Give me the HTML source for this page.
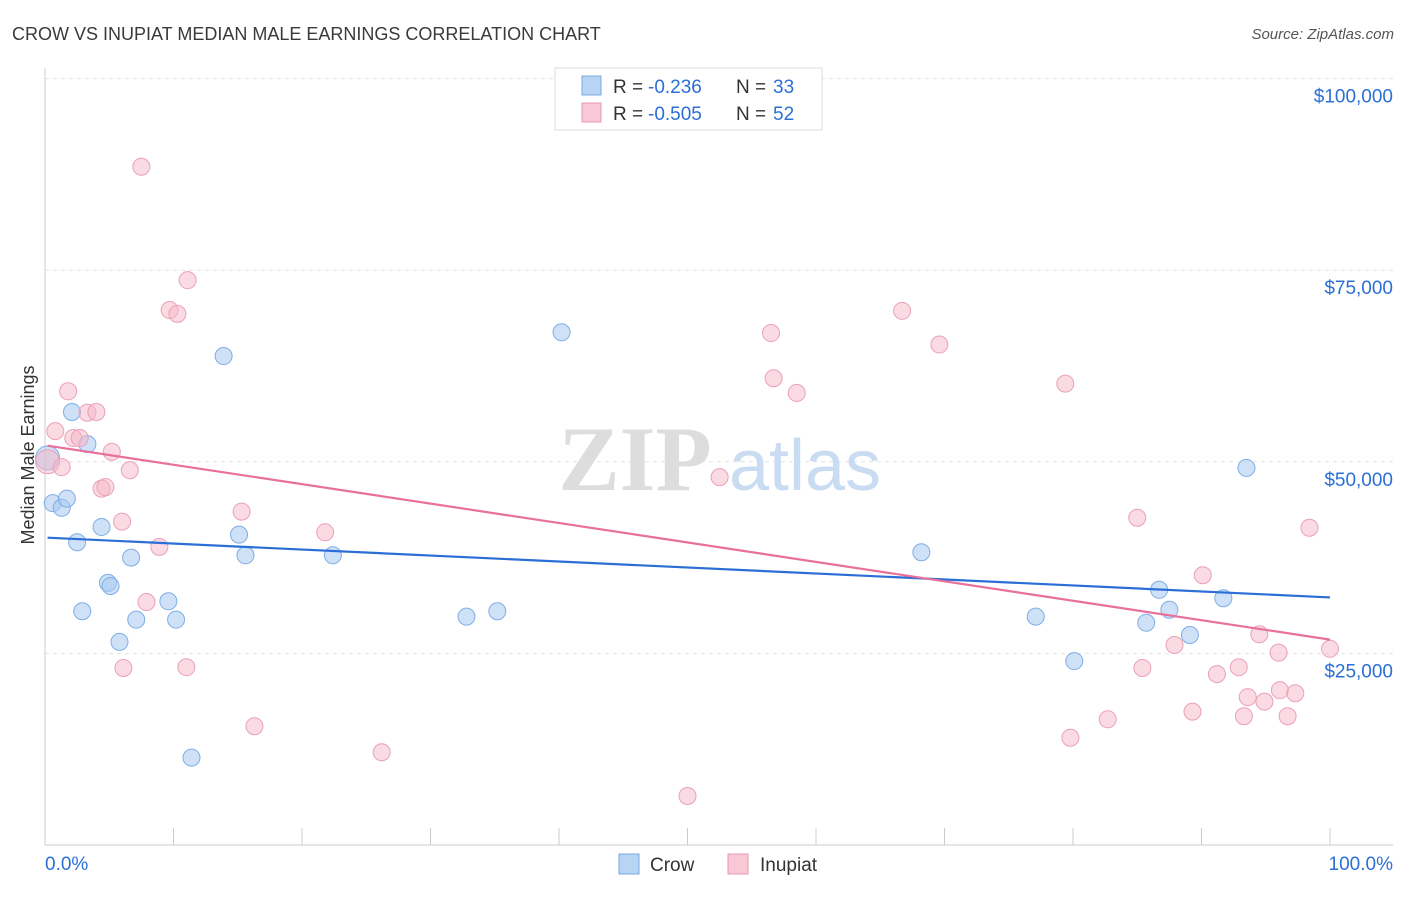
<!DOCTYPE html>
<html><head><meta charset="utf-8"><style>
body{margin:0;background:#fff;font-family:"Liberation Sans",sans-serif;}
svg text{font-family:"Liberation Sans",sans-serif;}
</style></head><body>
<svg id="chart" width="1406" height="892">
<text x="12" y="40" font-size="18" fill="#3a3a3a">CROW VS INUPIAT MEDIAN MALE EARNINGS CORRELATION CHART</text>
<text x="1394" y="39" font-size="15" fill="#555" font-style="italic" text-anchor="end">Source: ZipAtlas.com</text>
<g id="grid"></g>
<g>
<text x="635" y="490" font-size="92" fill="#ddd" text-anchor="middle" font-weight="bold" style="font-family:'Liberation Serif',serif">ZIP</text>
<text x="805" y="490" font-size="72" fill="#c9dcf2" text-anchor="middle">atlas</text>
</g>
<text transform="translate(34,455) rotate(-90)" font-size="18" fill="#333" text-anchor="middle">Median Male Earnings</text>
<g id="marks"></g>
<g>
<rect x="555" y="68" width="267" height="62" fill="#fff" stroke="#ddd"/>
<rect x="582" y="76" width="19" height="19" fill="#b8d4f4" stroke="#7aa8e0"/>
<rect x="582" y="103" width="19" height="19" fill="#f8c8d6" stroke="#e898b0"/>
<text x="613" y="93" font-size="19" fill="#333">R =</text>
<text x="648" y="93" font-size="19" fill="#2b6fd6">-0.236</text>
<text x="736" y="93" font-size="19" fill="#333">N =</text>
<text x="773" y="93" font-size="19" fill="#2b6fd6">33</text>
<text x="613" y="120" font-size="19" fill="#333">R =</text>
<text x="648" y="120" font-size="19" fill="#2b6fd6">-0.505</text>
<text x="736" y="120" font-size="19" fill="#333">N =</text>
<text x="773" y="120" font-size="19" fill="#2b6fd6">52</text>
</g>
<g>
<rect x="619" y="854" width="20" height="20" fill="#b8d4f4" stroke="#7aa8e0"/>
<text x="650" y="871" font-size="19" fill="#333">Crow</text>
<rect x="728" y="854" width="20" height="20" fill="#f8c8d6" stroke="#e898b0"/>
<text x="760" y="871" font-size="19" fill="#333">Inupiat</text>
</g>
</svg>
<script>
const yTicks=[25000,50000,75000,100000];
const yTickLabels=["$25,000","$50,000","$75,000","$100,000"];
const xTicks=[0,10,20,30,40,50,60,70,80,90,100];
const crowX=[0.2,0.6,1.3,1.7,2.1,3.3,2.5,2.9,4.4,4.9,5.1,5.8,6.7,7.1,9.6,10.2,11.4,13.9,15.1,15.6,22.4,32.8,35.2,40.2,68.2,77.1,80.1,85.7,86.7,87.5,89.1,91.7,93.5];
const crowY=[50500,44600,44000,45200,56500,52300,39500,30500,41500,34200,33800,26500,37500,29400,31800,29400,11400,63800,40500,37800,37800,29800,30500,66900,38200,29800,24000,29000,33300,30700,27400,32200,49200];
const inuX=[0.2,0.8,1.3,1.8,2.2,2.7,3.3,4.0,4.4,4.7,5.2,6.0,6.1,6.6,7.5,7.9,8.9,9.7,10.3,11.0,11.1,15.3,16.3,21.8,26.2,50.0,52.5,56.5,56.7,58.5,66.7,69.6,79.4,79.8,82.7,85.0,85.4,87.9,89.3,90.1,91.2,92.9,93.3,93.6,94.5,94.9,96.0,96.1,96.7,97.3,98.4,100];
const inuY=[50000,54000,49300,59200,53100,53100,56400,56500,46500,46700,51300,42200,23100,48900,88500,31700,38900,69800,69300,23200,73700,43500,15500,40800,12100,6400,48000,66800,60900,59000,69700,65300,60200,14000,16400,42700,23100,26100,17400,35200,22300,23200,16800,19300,27500,18700,25100,20200,16800,19800,41400,25600];
const crowTrend=[40100,32300];
const inuTrend=[52100,26800];
const NS="http://www.w3.org/2000/svg";
const X=v=>45+v*12.85, Y=v=>845-v*191.6/25000;
const grid=document.getElementById('grid'), marks=document.getElementById('marks');
function mk(tag,attrs,parent){const e=document.createElementNS(NS,tag);for(const k in attrs)e.setAttribute(k,attrs[k]);parent.appendChild(e);return e;}
yTicks.forEach((t,i)=>{
 const l=mk('line',{x1:45,x2:1393,y1:Y(t),y2:Y(t),stroke:'#e4e4e4','stroke-dasharray':'4,4'},grid);
 
 
 const tx=mk('text',{x:1393,y:Y(t)+24,'font-size':19,fill:'#2b6fd6','text-anchor':'end'},grid);tx.textContent=yTickLabels[i];
 
 
});
const ax=mk('line',{x1:45,x2:1393,y1:845,y2:845,stroke:'#ccc'},grid);


const ay=mk('line',{x1:45,x2:45,y1:68,y2:845,stroke:'#ccc'},grid);


xTicks.forEach(t=>{const l=mk('line',{x1:X(t),x2:X(t),y1:828,y2:845,stroke:'#ccc'},grid);
 
 });
let t0=mk('text',{x:45,y:870,'font-size':19,fill:'#2b6fd6'},grid);t0.textContent='0.0%';


let t1=mk('text',{x:1393,y:870,'font-size':19,fill:'#2b6fd6','text-anchor':'end'},grid);t1.textContent='100.0%';


crowX.forEach((x,i)=>{const c=mk('circle',{cx:X(x),cy:Y(crowY[i]),r:i==0?12:8.5,fill:'rgba(168,200,240,0.55)',stroke:'#7eaee6','stroke-width':1},marks);
 
 });
inuX.forEach((x,i)=>{const c=mk('circle',{cx:X(x),cy:Y(inuY[i]),r:i==0?12:8.5,fill:'rgba(245,181,200,0.5)',stroke:'#eca0b8','stroke-width':1},marks);
 
 });
const l1=mk('line',{x1:X(0.2),x2:X(100),y1:Y(crowTrend[0]),y2:Y(crowTrend[1]),stroke:'#2b6fd6','stroke-width':2.2},marks);


const l2=mk('line',{x1:X(0.2),x2:X(100),y1:Y(inuTrend[0]),y2:Y(inuTrend[1]),stroke:'#e8709a','stroke-width':2.2},marks);


</script>
</body></html>
